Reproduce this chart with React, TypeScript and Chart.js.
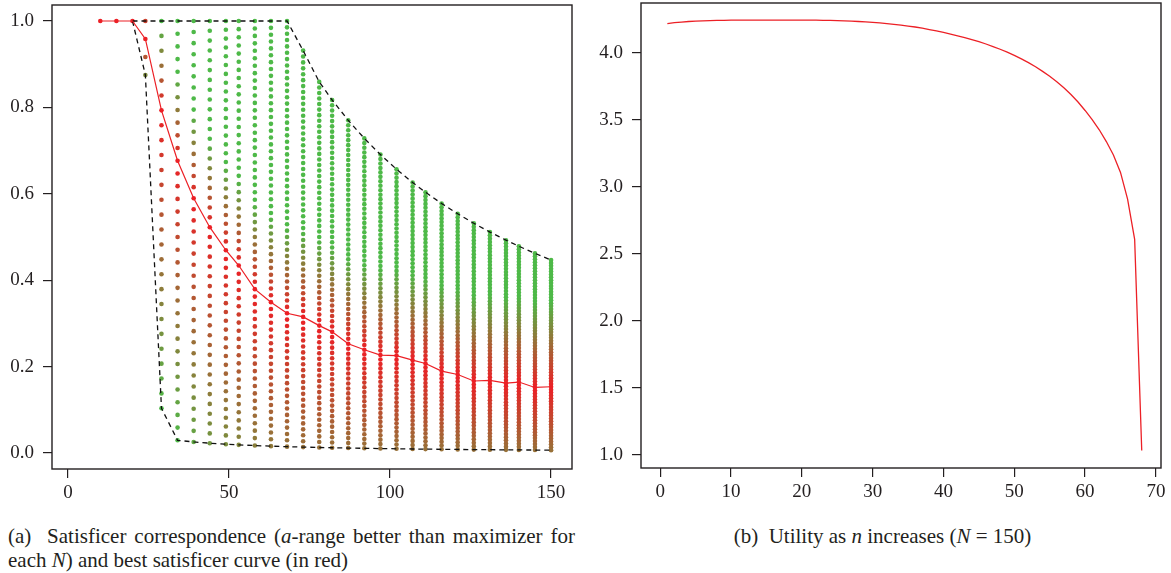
import React, { useEffect, useRef } from "react";
import { Chart, registerables } from "chart.js";

Chart.register(...registerables);

// ---------- Panel (a) data ----------
// Column positions N
const Ns = [10, 15, 20, 24, 29, 34, 39, 44, 49, 53, 58, 63, 68, 73, 78, 82, 87, 92, 97, 102, 107, 111, 116, 121, 126, 131, 136, 140, 145, 150];
// Dots in each column sit at a = j / N for j = loJ .. hiJ
const loJ = [10, 15, 20, 21, 3, 1, 1, 1, 1, 1, 1, 1, 1, 1, 1, 1, 1, 1, 1, 1, 1, 1, 1, 1, 1, 1, 1, 1, 1, 1];
const hiJ = [10, 15, 20, 24, 29, 34, 39, 44, 49, 53, 58, 63, 68, 68, 67, 67, 67, 67, 67, 67, 67, 67, 67, 67, 67, 67, 67, 67, 67, 67];
// Best satisficer (red curve): a = bestJ / N
const bestJ = [10, 15, 20, 23, 23, 23, 23, 23, 23, 23, 22, 22, 22, 23, 23, 23, 22, 22, 22, 23, 23, 23, 22, 22, 21, 22, 22, 23, 22, 23];
// Redness of the lowest dot in each column (1 = red, 0 = green)
const lowRed = [1, 1, 1, 0.3, 0, 0, 0.12, 0.22, 0.28, 0.33, 0.38, 0.42, 0.45, 0.47, 0.47, 0.47, 0.47, 0.47, 0.47, 0.47, 0.47, 0.47, 0.47, 0.47, 0.47, 0.47, 0.47, 0.47, 0.47, 0.47];
const xTicksA = [0, 50, 100, 150];
const yTicksA = [0, 0.2, 0.4, 0.6, 0.8, 1.0];

// ---------- Panel (b) data ----------
const nValues = [1, 2, 3, 4, 5, 6, 7, 8, 9, 10, 11, 12, 13, 14, 15, 16, 17, 18, 19, 20, 21, 22, 23, 24, 25, 26, 27, 28, 29, 30, 31, 32, 33, 34, 35, 36, 37, 38, 39, 40, 41, 42, 43, 44, 45, 46, 47, 48, 49, 50, 51, 52, 53, 54, 55, 56, 57, 58, 59, 60, 61, 62, 63, 64, 65, 66, 67, 68];
const utility = [
  4.216, 4.223, 4.228, 4.232, 4.235, 4.237, 4.239, 4.240, 4.241, 4.242,
  4.242, 4.242, 4.242, 4.242, 4.242, 4.242, 4.242, 4.242, 4.242, 4.242,
  4.242, 4.242, 4.241, 4.240, 4.239, 4.237, 4.235, 4.232, 4.229, 4.225,
  4.221, 4.216, 4.211, 4.205, 4.198, 4.191, 4.182, 4.172, 4.162, 4.150,
  4.138, 4.125, 4.111, 4.096, 4.081, 4.064, 4.045, 4.025, 4.003, 3.979,
  3.953, 3.925, 3.894, 3.860, 3.823, 3.782, 3.737, 3.687, 3.631, 3.568,
  3.500, 3.424, 3.336, 3.236, 3.106, 2.906, 2.606, 1.030,
];
const xTicksB = [0, 10, 20, 30, 40, 50, 60, 70];
const yTicksB = [1.0, 1.5, 2.0, 2.5, 3.0, 3.5, 4.0];

// ---------- styles ----------
const RED = [236, 32, 38];
const GREEN = [78, 185, 72];
const UP_WIDTH = 0.2;
const INK = "#231f20";
const FONT = "'Liberation Serif', serif";

function mix(t: number) {
  const c = GREEN.map((g, k) => Math.round(g + (RED[k] - g) * t));
  return `rgb(${c[0]},${c[1]},${c[2]})`;
}

function redness(i: number, j: number) {
  const N = Ns[i];
  const a = j / N;
  const b = bestJ[i] / N;
  if (j === bestJ[i]) return 1;
  if (a > b) return Math.max(0, 1 - (a - b) / UP_WIDTH);
  const lo = loJ[i] / N;
  if (b === lo) return 1;
  return 1 - (1 - lowRed[i]) * (b - a) / (b - lo);
}

const framePlugin = {
  id: "frame",
  afterDraw(chart: any) {
    const { ctx, chartArea } = chart;
    ctx.save();
    ctx.strokeStyle = INK;
    ctx.lineWidth = 1.4;
    ctx.strokeRect(chartArea.left, chartArea.top, chartArea.right - chartArea.left, chartArea.bottom - chartArea.top);
    ctx.restore();
  },
};

function axis(min: number, max: number, ticks: number[], fmt: (v: number) => string, horizontal: boolean, size: number, pad: number) {
  return {
    type: "linear",
    min,
    max,
    border: { display: false },
    grid: { display: true, drawOnChartArea: false, drawTicks: true, tickLength: 9, color: INK, lineWidth: 1.2 },
    ticks: {
      autoSkip: false,
      maxRotation: 0,
      padding: pad,
      color: INK,
      font: { family: FONT, size: 19 },
      callback: (v: any) => fmt(Number(v)),
    },
    afterBuildTicks: (s: any) => {
      s.ticks = ticks.map((v) => ({ value: v }));
    },
    afterFit: (s: any) => {
      if (horizontal) s.height = size;
      else s.width = size;
      s.paddingTop = 0;
      s.paddingBottom = 0;
      s.paddingLeft = 0;
      s.paddingRight = 0;
    },
  };
}

function PanelA() {
  const ref = useRef<HTMLCanvasElement>(null);
  useEffect(() => {
    const dots: any[] = [];
    const colors: string[] = [];
    Ns.forEach((N, i) => {
      for (let j = loJ[i]; j <= hiJ[i]; j++) {
        dots.push({ x: N, y: j / N });
        colors.push(mix(redness(i, j)));
      }
    });
    const best = Ns.map((N, i) => ({ x: N, y: bestJ[i] / N }));
    const upper = Ns.slice(2).map((N, k) => ({ x: N, y: hiJ[k + 2] / N }));
    const lower = Ns.slice(2).map((N, k) => ({ x: N, y: loJ[k + 2] / N }));
    const dash = { type: "line", borderColor: "#111", borderWidth: 1.3, borderDash: [5, 4], pointRadius: 0, fill: false, order: 1 };
    const chart = new Chart(ref.current!, {
      type: "scatter",
      data: {
        datasets: [
          { type: "line", data: best, borderColor: "rgb(236,32,38)", borderWidth: 1.2, pointRadius: 0, fill: false, order: 0 } as any,
          { ...dash, data: upper } as any,
          { ...dash, data: lower } as any,
          { data: dots, pointRadius: 2.3, pointBorderWidth: 0, pointBackgroundColor: colors, pointBorderColor: colors, order: 2 } as any,
        ],
      },
      options: {
        animation: false,
        responsive: false,
        layout: { padding: { left: 0, top: 5, right: 18, bottom: 0 }, autoPadding: false },
        plugins: { legend: { display: false }, tooltip: { enabled: false } },
        scales: {
          x: axis(-5, 156.5, xTicksA, (v) => String(v), true, 46, 4),
          y: axis(-0.037, 1.037, yTicksA, (v) => v.toFixed(1), false, 52, 9),
        } as any,
      },
      plugins: [framePlugin],
    } as any);
    return () => chart.destroy();
  }, []);
  return <canvas ref={ref} width={590} height={515} style={{ position: "absolute", left: 0, top: 0 }} />;
}

function PanelB() {
  const ref = useRef<HTMLCanvasElement>(null);
  useEffect(() => {
    const pts = nValues.map((n, i) => ({ x: n, y: utility[i] }));
    const chart = new Chart(ref.current!, {
      type: "line",
      data: {
        datasets: [{ data: pts, borderColor: "rgb(236,32,38)", borderWidth: 1.3, pointRadius: 0, fill: false, tension: 0 }],
      },
      options: {
        animation: false,
        responsive: false,
        layout: { padding: { left: 0, top: 3, right: 10, bottom: 0 }, autoPadding: false },
        plugins: { legend: { display: false }, tooltip: { enabled: false } },
        scales: {
          x: axis(-2.72, 70.72, xTicksB, (v) => String(v), true, 47, 4),
          y: axis(0.9, 4.37, yTicksB, (v) => v.toFixed(1), false, 51, 9),
        } as any,
      },
      plugins: [framePlugin],
    } as any);
    return () => chart.destroy();
  }, []);
  return <canvas ref={ref} width={581} height={515} style={{ position: "absolute", left: 590, top: 0 }} />;
}

export default function App() {
  const cap: React.CSSProperties = { position: "absolute", fontFamily: FONT, fontSize: 21, lineHeight: "24px", color: INK, whiteSpace: "nowrap" };
  return (
    <div style={{ position: "absolute", left: 0, top: 0, width: 1171, height: 573, background: "#fff", overflow: "hidden" }}>
      <PanelA />
      <PanelB />
      <div style={{ ...cap, left: 8, top: 524, width: 567, textAlign: "justify", textAlignLast: "justify" as any, whiteSpace: "normal" }}>
        (a)&nbsp; Satisficer correspondence (<i>a</i>-range better than maximizer for
      </div>
      <div style={{ ...cap, left: 8, top: 548 }}>
        each <i>N</i>) and best satisficer curve (in red)
      </div>
      <div style={{ ...cap, left: 592, top: 524, width: 581, textAlign: "center" }}>
        (b)&nbsp; Utility as <i>n</i> increases (<i>N</i> = 150)
      </div>
    </div>
  );
}
